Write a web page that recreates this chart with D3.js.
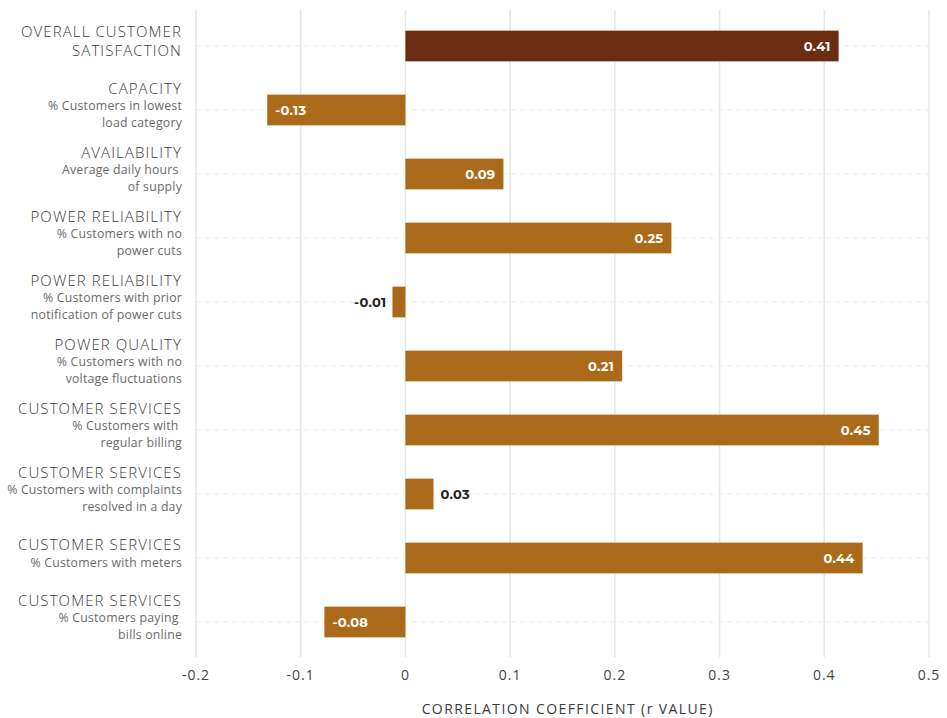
<!DOCTYPE html>
<html><head><meta charset="utf-8">
<script src="https://cdn.jsdelivr.net/npm/d3@7"></script>
<style>
body{margin:0;background:#fff;}
svg{display:block;font-family:"Open Sans",sans-serif;}
</style></head>
<body><svg id="chart" width="947" height="718"></svg>
<script>
const categories = ["OVERALL CUSTOMER|SATISFACTION","CAPACITY","AVAILABILITY","POWER RELIABILITY","POWER RELIABILITY","POWER QUALITY","CUSTOMER SERVICES","CUSTOMER SERVICES","CUSTOMER SERVICES","CUSTOMER SERVICES"];
const subtitles = ["","% Customers in lowest|load category","Average daily hours |of supply","% Customers with no|power cuts","% Customers with prior|notification of power cuts","% Customers with no|voltage fluctuations","% Customers with |regular billing","% Customers with complaints|resolved in a day","% Customers with meters","% Customers paying |bills online"];
const values = [0.4137,-0.132,0.0936,0.254,-0.0124,0.207,0.452,0.0268,0.4366,-0.0774];
const highlight = [true,false,false,false,false,false,false,false,false,false];
const xTicks = [-0.2,-0.1,0,0.1,0.2,0.3,0.4,0.5];
const xTitle = "CORRELATION COEFFICIENT (r VALUE)";

const svg = d3.select("#chart");
const x = d3.scaleLinear().domain([-0.2,0.5]).range([196,929]);
const idx = d3.range(values.length);
const y = d3.scaleBand().domain(idx).range([14,654]).paddingInner(0.52).paddingOuter(0.26);
const hy = s => s.replace(/\u2212/g,"-");

// vertical grid
svg.append("g").selectAll("line").data(xTicks).join("line")
  .attr("x1",d=>x(d)).attr("x2",d=>x(d)).attr("y1",10).attr("y2",657)
  .attr("stroke","#e6e6e6").attr("stroke-width",1.5);
// horizontal dashed grid
svg.append("g").selectAll("line").data(idx).join("line")
  .attr("x1",x(-0.2)).attr("x2",x(0.5))
  .attr("y1",d=>y(d)+y.bandwidth()/2).attr("y2",d=>y(d)+y.bandwidth()/2)
  .attr("stroke","#ececec").attr("stroke-width",1).attr("stroke-dasharray","5,4");

// bars
svg.append("g").selectAll("rect").data(idx).join("rect")
  .attr("x",d=>x(Math.min(0,values[d])))
  .attr("width",d=>Math.abs(x(values[d])-x(0)))
  .attr("y",d=>y(d)).attr("height",y.bandwidth())
  .attr("fill",d=>highlight[d]?"#6b2c12":"#ab6a1a");

// value labels
const fmt = d3.format(".2f");
svg.append("g").selectAll("text").data(idx).join("text")
  .attr("y",d=>y(d)+y.bandwidth()/2).attr("dy","0.35em")
  .attr("font-family","Montserrat, Lato, 'Open Sans', sans-serif")
  .attr("font-weight","bold").attr("font-size",13).attr("letter-spacing",0.3)
  .each(function(d){
    const v=values[d], w=Math.abs(x(v)-x(0)), inside=w>40;
    const t=d3.select(this);
    if(v>=0){
      if(inside){t.attr("x",x(v)-8).attr("text-anchor","end").attr("fill","#fff");}
      else {t.attr("x",x(v)+7).attr("text-anchor","start").attr("fill","#222");}
    } else {
      if(inside){t.attr("x",x(v)+8).attr("text-anchor","start").attr("fill","#fff");}
      else {t.attr("x",x(v)-6).attr("text-anchor","end").attr("fill","#222");}
    }
  })
  .text(d=>hy(fmt(values[d])));

// y labels
const lab = svg.append("g");
idx.forEach(d=>{
  const tl = categories[d].split("|");
  const sl = subtitles[d] ? subtitles[d].split("|") : [];
  const hT=18.5, hS=16.5;
  const total = tl.length*hT + sl.length*hS;
  const cy = y(d)+y.bandwidth()/2 - 5;
  let top = cy - total/2;
  const g = lab.append("g");
  tl.forEach(s=>{
    g.append("text").attr("x",182).attr("y",top+hT/2).attr("dy","0.35em")
      .attr("text-anchor","end").attr("font-size",15).attr("letter-spacing",1.1)
      .attr("font-weight",300).attr("fill","#3a3a3a").text(s);
    top+=hT;
  });
  sl.forEach(s=>{
    g.append("text").attr("x",182).attr("y",top+hS/2).attr("dy","0.35em")
      .attr("text-anchor","end").attr("font-size",12.3).attr("letter-spacing",0.2)
      .attr("fill","#6a6a6a")
      .attr("xml:space","preserve").text(s);
    top+=hS;
  });
});

// x tick labels
svg.append("g").selectAll("text").data(xTicks).join("text")
  .attr("x",d=>x(d)).attr("y",675).attr("dy","0.35em").attr("text-anchor","middle")
  .attr("font-size",14).attr("letter-spacing",1).attr("fill","#444")
  .text(d=>d===0?"0":hy(d3.format(".1f")(d)));

svg.append("text").attr("x",x(0.155)).attr("y",714).attr("text-anchor","middle")
  .attr("font-size",14).attr("letter-spacing",1.4).attr("fill","#3a3a3a").text(xTitle);
</script></body></html>
